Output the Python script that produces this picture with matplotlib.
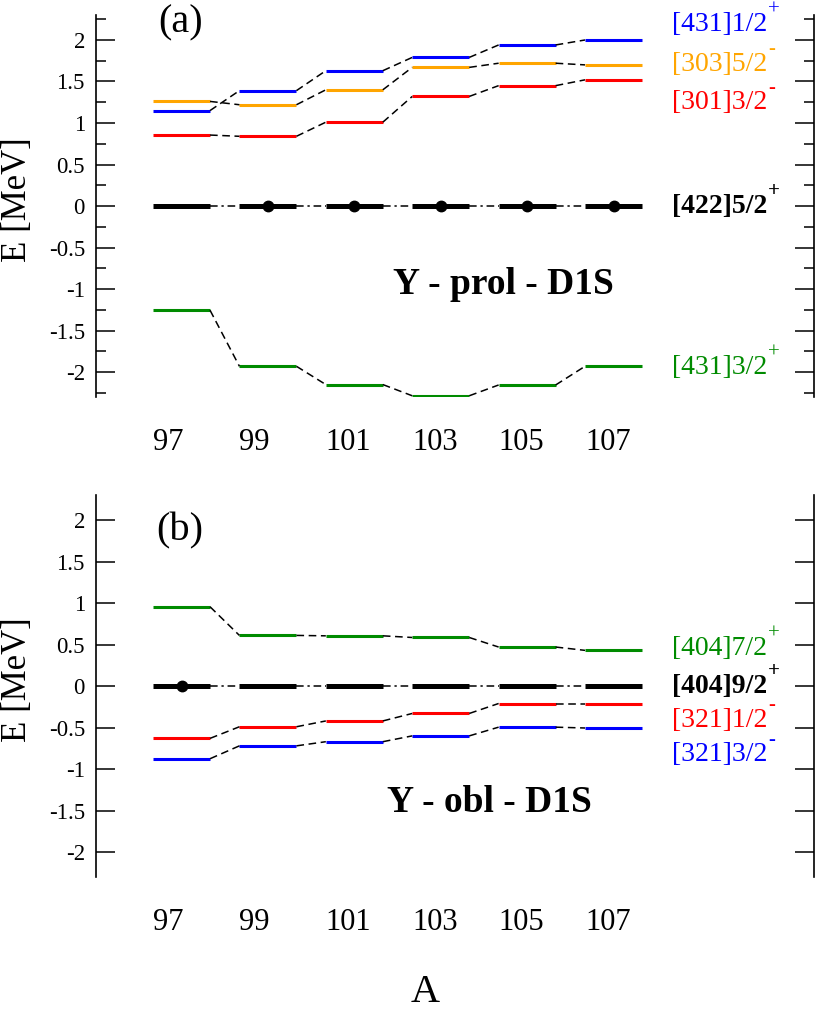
import matplotlib
matplotlib.use("Agg")
import matplotlib.pyplot as plt

plt.rcParams["font.family"] = ["Liberation Serif", "DejaVu Serif"]
plt.rcParams["axes.unicode_minus"] = False

# Numeros masicos
A = [97, 99, 101, 103, 105, 107]
A_LABELS = ["97", "99", "101", "103", "105", "107"]

# Panel (a): prolato
prol_431_12 = [1.15, 1.39, 1.63, 1.79, 1.94, 2.00]
prol_303_52 = [1.26, 1.22, 1.40, 1.67, 1.72, 1.70]
prol_301_32 = [0.855, 0.84, 1.01, 1.32, 1.45, 1.52]
prol_422_52 = [0.0, 0.0, 0.0, 0.0, 0.0, 0.0]
prol_431_32 = [-1.255, -1.93, -2.15, -2.285, -2.155, -1.93]

# Panel (b): oblato
obl_404_72 = [0.955, 0.61, 0.605, 0.585, 0.47, 0.43]
obl_404_92 = [0.0, 0.0, 0.0, 0.0, 0.0, 0.0]
obl_321_12 = [-0.63, -0.49, -0.42, -0.33, -0.21, -0.21]
obl_321_32 = [-0.875, -0.72, -0.67, -0.60, -0.495, -0.505]

YTICKS = [-2, -1.5, -1, -0.5, 0, 0.5, 1, 1.5, 2]
YTICK_LABELS = ["-2", "-1.5", "-1", "-0.5", "0", "0.5", "1", "1.5", "2"]

AZUL = "#0000ff"
NARANJA = "#ffa500"
ROJO = "#ff0000"
VERDE = "#008b00"
NEGRO = "#000000"

W = 0.66  # media anchura de cada nivel


def dibujar_niveles(ax, energias, color, grueso=False, conector=(0, (5, 3)), marcas=()):
    lw = 3.6 if grueso else 2.2
    for a, e in zip(A, energias):
        ax.plot([a - W, a + W], [e, e], color=color, lw=lw, solid_capstyle="butt")
    for i in range(len(A) - 1):
        ax.plot([A[i] + W, A[i + 1] - W], [energias[i], energias[i + 1]],
                color="black", lw=1.1, linestyle=conector)
    for i in marcas:
        ax.plot(A[i], energias[i], "o", color="black", markersize=7.5)


def preparar_ejes(ax, menores):
    ax.set_xlim(95.02, 111.64)
    ax.set_ylim(-2.3, 2.3)
    for s in ["top", "bottom"]:
        ax.spines[s].set_visible(False)
    for s in ["left", "right"]:
        ax.spines[s].set_linewidth(1.2)
    ax.set_yticks(YTICKS)
    ax.set_yticklabels(YTICK_LABELS, fontsize=16.5)
    if menores:
        ax.set_yticks([-2.25, -1.75, -1.25, -0.75, -0.25, 0.25, 0.75, 1.25, 1.75, 2.25], minor=True)
        ax.tick_params(axis="y", which="minor", direction="in", length=7, width=1.1,
                       left=True, right=True)
    ax.tick_params(axis="y", which="major", direction="in", length=13.5, width=1.1,
                   left=True, right=True, pad=8)
    ax.set_xticks([a - W for a in A])
    ax.set_xticklabels(A_LABELS, fontsize=22, ha="left")
    ax.tick_params(axis="x", length=0, pad=22)


def etiqueta(ax, y, texto, sup, color, negrita=False):
    peso = "bold" if negrita else "normal"
    t = ax.text(108.36, y, texto, color=color, fontsize=20, va="center", ha="left",
                fontweight=peso)
    ax.annotate(sup, xy=(1.0, 0.5), xycoords=t, xytext=(0.5, 7), textcoords="offset points",
                color=color, fontsize=15, fontweight=peso, ha="left", va="baseline")


fig = plt.figure(figsize=(8.17, 10.11), dpi=100)
ax1 = fig.add_axes([0.1175, 0.6073, 0.8788, 0.3778])
ax2 = fig.add_axes([0.1175, 0.1325, 0.8788, 0.3778])

# Panel (a)
dibujar_niveles(ax1, prol_431_12, AZUL)
dibujar_niveles(ax1, prol_303_52, NARANJA)
dibujar_niveles(ax1, prol_301_32, ROJO)
dibujar_niveles(ax1, prol_431_32, VERDE)
dibujar_niveles(ax1, prol_422_52, NEGRO, grueso=True, conector=(0, (5, 2.5, 1.5, 2.5)),
                marcas=(1, 2, 3, 4, 5))
preparar_ejes(ax1, menores=True)
etiqueta(ax1, 2.19, "[431]1/2", "+", AZUL)
etiqueta(ax1, 1.71, "[303]5/2", "-", NARANJA)
etiqueta(ax1, 1.25, "[301]3/2", "-", ROJO)
etiqueta(ax1, 0.0, "[422]5/2", "+", NEGRO, negrita=True)
etiqueta(ax1, -1.94, "[431]3/2", "+", VERDE)
ax1.text(96.97, 2.21, "(a)", fontsize=29, ha="center", va="center")
ax1.text(104.45, -0.94, "Y - prol - D1S", fontsize=27, fontweight="bold",
         ha="center", va="center")

# Panel (b)
dibujar_niveles(ax2, obl_404_72, VERDE)
dibujar_niveles(ax2, obl_321_12, ROJO)
dibujar_niveles(ax2, obl_321_32, AZUL)
dibujar_niveles(ax2, obl_404_92, NEGRO, grueso=True, conector=(0, (5, 2.5, 1.5, 2.5)),
                marcas=(0,))
preparar_ejes(ax2, menores=False)
etiqueta(ax2, 0.455, "[404]7/2", "+", VERDE)
etiqueta(ax2, 0.0, "[404]9/2", "+", NEGRO, negrita=True)
etiqueta(ax2, -0.41, "[321]1/2", "-", ROJO)
etiqueta(ax2, -0.83, "[321]3/2", "-", AZUL)
ax2.text(96.97, 1.87, "(b)", fontsize=29, ha="center", va="center")
ax2.text(104.13, -1.4, "Y - obl - D1S", fontsize=27, fontweight="bold",
         ha="center", va="center")

# Etiquetas de ejes
fig.text(18 / 817, 1 - 200 / 1011, "E [MeV]", fontsize=25, rotation=90,
         ha="center", va="center")
fig.text(18 / 817, 1 - 680 / 1011, "E [MeV]", fontsize=25, rotation=90,
         ha="center", va="center")
fig.text(425 / 817, 1 - 992 / 1011, "A", fontsize=29, ha="center", va="center")

fig.savefig("out.png", dpi=100)
